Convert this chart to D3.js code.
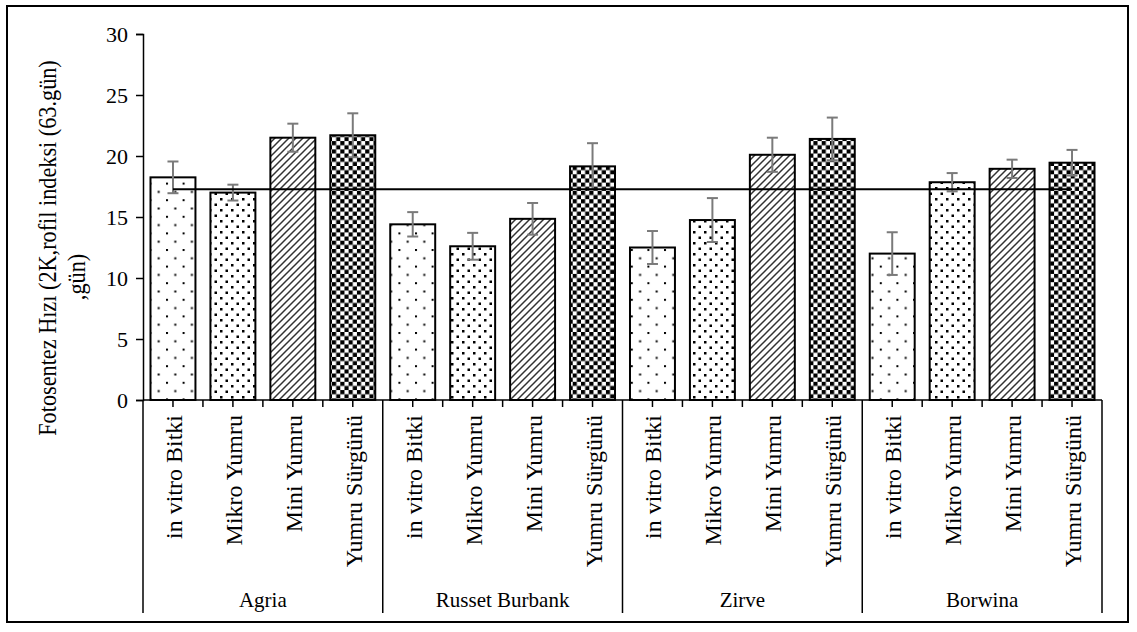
<!DOCTYPE html>
<html>
<head>
<meta charset="utf-8">
<script src="https://cdn.jsdelivr.net/npm/d3@7"></script>
<style>
  body { margin: 0; background: #fff; }
  text { font-family: "Liberation Serif", "Times New Roman", serif; fill: #000; }
</style>
</head>
<body>
<div id="chart"></div>
<script>
// categories
var groups = ["Agria", "Russet Burbank", "Zirve", "Borwina"];
var treatments = ["in vitro Bitki", "Mikro Yumru", "Mini Yumru", "Yumru Sürgünü"];

// values per treatment, one per group
var inVitroValues = [18.25, 14.4, 12.5, 12.0];
var mikroValues = [17.0, 12.6, 14.75, 17.85];
var miniValues = [21.5, 14.85, 20.1, 18.95];
var surgunValues = [21.7, 19.15, 21.4, 19.45];

// error bars (+/-)
var inVitroErr = [1.3, 1.0, 1.35, 1.75];
var mikroErr = [0.65, 1.1, 1.8, 0.75];
var miniErr = [1.15, 1.3, 1.4, 0.75];
var surgunErr = [1.8, 1.9, 1.75, 1.05];

var yTicks = [0, 5, 10, 15, 20, 25, 30];

var width = 1137,
  height = 632;
var margin = { left: 143, right: 35, top: 34, bottom: 232 };
var plotW = width - margin.left - margin.right,
  plotH = height - margin.top - margin.bottom;

var seriesValues = [inVitroValues, mikroValues, miniValues, surgunValues];
var seriesErr = [inVitroErr, mikroErr, miniErr, surgunErr];

// flatten into one row per bar, group by group
var bars = [];
groups.forEach(function(g, gi) {
  treatments.forEach(function(t, ti) {
    bars.push({
      key: g + "|" + t,
      group: g,
      treatment: t,
      ti: ti,
      value: seriesValues[ti][gi],
      err: seriesErr[ti][gi]
    });
  });
});

var meanValue = d3.mean(bars, function(d) { return d.value; });

var svg = d3
  .select("#chart")
  .append("svg")
  .attr("width", width)
  .attr("height", height);

//fill patterns similar to the excel ones
var defs = svg.append("defs");

var p0 = defs.append("pattern").attr("id", "pat0").attr("patternUnits", "userSpaceOnUse")
  .attr("width", 16.6).attr("height", 16.6);
p0.append("rect").attr("x", 0).attr("y", 0).attr("width", 2).attr("height", 2).attr("fill", "#000");
p0.append("rect").attr("x", 8.3).attr("y", 8.3).attr("width", 2).attr("height", 2).attr("fill", "#000");

var p1 = defs.append("pattern").attr("id", "pat1").attr("patternUnits", "userSpaceOnUse")
  .attr("width", 11).attr("height", 11);
p1.append("rect").attr("x", 0).attr("y", 0).attr("width", 2.5).attr("height", 2.5).attr("fill", "#000");
p1.append("rect").attr("x", 5.5).attr("y", 5.5).attr("width", 2.5).attr("height", 2.5).attr("fill", "#000");

var p2 = defs.append("pattern").attr("id", "pat2").attr("patternUnits", "userSpaceOnUse")
  .attr("width", 7).attr("height", 7);
p2.append("path").attr("d", "M-2,2L2,-2M0,7L7,0M5,9L9,5")
  .attr("stroke", "#333").attr("stroke-width", 1.5);

var p3 = defs.append("pattern").attr("id", "pat3").attr("patternUnits", "userSpaceOnUse")
  .attr("width", 8.3).attr("height", 8.3);
p3.append("rect").attr("x", 0).attr("y", 0).attr("width", 4.15).attr("height", 4.15).attr("fill", "#000");
p3.append("rect").attr("x", 4.15).attr("y", 4.15).attr("width", 4.15).attr("height", 4.15).attr("fill", "#000");

//outer frame
svg.append("rect")
  .attr("x", 7).attr("y", 6)
  .attr("width", 1121).attr("height", 616)
  .attr("fill", "none").attr("stroke", "#000").attr("stroke-width", 2);

var x = d3.scaleBand()
  .domain(bars.map(function(d) { return d.key; }))
  .range([margin.left, margin.left + plotW])
  .paddingInner(0.25)
  .paddingOuter(0.125);

var y = d3.scaleLinear().domain([0, 30]).range([margin.top + plotH, margin.top]);

//y axis
var yAxis = svg.append("g")
  .attr("transform", "translate(" + margin.left + ",0)")
  .call(d3.axisLeft(y).tickValues(yTicks).tickSize(7).tickPadding(8));
yAxis.select(".domain").attr("stroke", "#000").attr("stroke-width", 1.5);
yAxis.selectAll(".tick line").attr("stroke", "#000").attr("stroke-width", 1.5);
yAxis.selectAll(".tick text")
  .style("font-family", "Liberation Serif")
  .style("font-size", "22px");

//bars
svg.selectAll(".bar")
  .data(bars)
  .enter()
  .append("rect")
  .attr("class", "bar")
  .attr("x", function(d) { return x(d.key); })
  .attr("y", function(d) { return y(d.value); })
  .attr("width", x.bandwidth())
  .attr("height", function(d) { return y(0) - y(d.value); })
  .attr("fill", function(d) { return "url(#pat" + d.ti + ")"; })
  .attr("stroke", "#000")
  .attr("stroke-width", 2);

//error bars
var errG = svg.selectAll(".err").data(bars).enter().append("g").attr("class", "err")
  .attr("stroke", "#7a7a7a").attr("stroke-width", 2);
var cx = function(d) { return x(d.key) + x.bandwidth() / 2; };
errG.append("line")
  .attr("x1", cx).attr("x2", cx)
  .attr("y1", function(d) { return y(d.value + d.err); })
  .attr("y2", function(d) { return y(d.value - d.err); });
errG.append("line")
  .attr("x1", function(d) { return cx(d) - 5.5; }).attr("x2", function(d) { return cx(d) + 5.5; })
  .attr("y1", function(d) { return y(d.value + d.err); })
  .attr("y2", function(d) { return y(d.value + d.err); });
errG.append("line")
  .attr("x1", function(d) { return cx(d) - 5.5; }).attr("x2", function(d) { return cx(d) + 5.5; })
  .attr("y1", function(d) { return y(d.value - d.err); })
  .attr("y2", function(d) { return y(d.value - d.err); });

//mean line across all bars
var meanLine = d3.line()
  .x(function(d) { return cx(d); })
  .y(function() { return y(meanValue); });
svg.append("path")
  .datum([bars[0], bars[bars.length - 1]])
  .attr("d", meanLine)
  .attr("fill", "none")
  .attr("stroke", "#000")
  .attr("stroke-width", 2);

//x axis line
var base = y(0);
svg.append("line")
  .attr("x1", margin.left).attr("x2", margin.left + plotW)
  .attr("y1", base).attr("y2", base)
  .attr("stroke", "#000").attr("stroke-width", 1.5);

//small ticks at bar centers and between bars
var step = x.step();
bars.forEach(function(d, i) {
  var c = cx(d);
  [c, c + step / 2].forEach(function(tx) {
    if ((i + 1) % 4 === 0 && tx > c) return;
    svg.append("line")
      .attr("x1", tx).attr("x2", tx)
      .attr("y1", base).attr("y2", base + 7)
      .attr("stroke", "#000").attr("stroke-width", 1.5);
  });
});

//group separators
var groupEdges = [margin.left];
groups.forEach(function(g, gi) {
  var last = bars[gi * 4 + 3];
  groupEdges.push(cx(last) + step / 2);
});
groupEdges.forEach(function(gx) {
  svg.append("line")
    .attr("x1", gx).attr("x2", gx)
    .attr("y1", base).attr("y2", 613)
    .attr("stroke", "#000").attr("stroke-width", 1.5);
});

//treatment labels (rotated)
svg.selectAll(".tlabel")
  .data(bars)
  .enter()
  .append("text")
  .attr("class", "tlabel")
  .attr("transform", function(d) { return "translate(" + (cx(d) + 9) + "," + (base + 15) + ") rotate(-90)"; })
  .attr("text-anchor", "end")
  .style("font-size", "24px")
  .text(function(d) { return d.treatment; });

//group labels
svg.selectAll(".glabel")
  .data(groups)
  .enter()
  .append("text")
  .attr("class", "glabel")
  .attr("x", function(g, gi) { return (groupEdges[gi] + groupEdges[gi + 1]) / 2; })
  .attr("y", 607)
  .attr("text-anchor", "middle")
  .style("font-size", "21px")
  .text(function(g) { return g; });

//y axis title (two lines), a bit narrower along its length like the original
svg.append("text")
  .attr("transform", "translate(56,248) rotate(-90) scale(0.89,1)")
  .attr("text-anchor", "middle")
  .style("font-size", "25px")
  .text("Fotosentez Hızı (2K,rofil indeksi (63.gün)");
svg.append("text")
  .attr("transform", "translate(85,277) rotate(-90) scale(0.89,1)")
  .attr("text-anchor", "middle")
  .style("font-size", "25px")
  .text(",gün)");
</script>
</body>
</html>
